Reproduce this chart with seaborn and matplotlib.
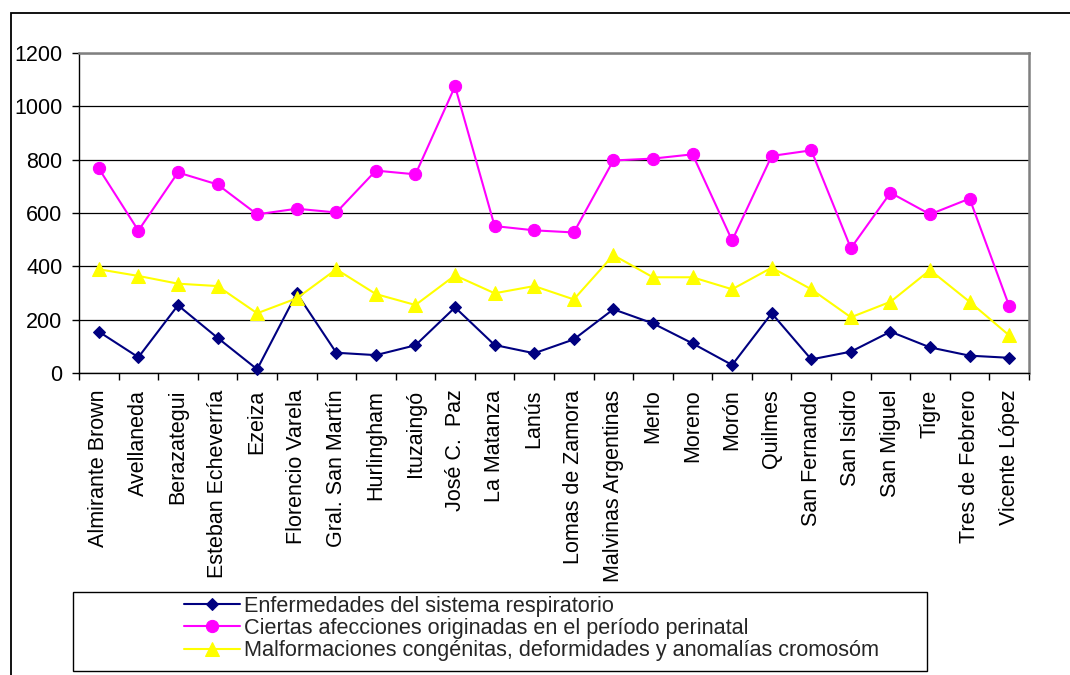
import numpy as np
import pandas as pd
import matplotlib
matplotlib.use("Agg")
import matplotlib.pyplot as plt
from matplotlib.patches import Rectangle
import seaborn as sns

categories = ["Almirante Brown", "Avellaneda", "Berazategui", "Esteban Echeverría",
              "Ezeiza", "Florencio Varela", "Gral. San Martín", "Hurlingham",
              "Ituzaingó", "José C.  Paz", "La Matanza", "Lanús", "Lomas de Zamora",
              "Malvinas Argentinas", "Merlo", "Moreno", "Morón", "Quilmes",
              "San Fernando", "San Isidro", "San Miguel", "Tigre", "Tres de Febrero",
              "Vicente López"]

respiratorio = [155, 59, 254, 132, 14, 299, 76, 67, 104, 246, 105, 74, 126,
                239, 186, 111, 30, 224, 51, 80, 155, 96, 65, 57]
perinatal = [767, 534, 752, 707, 595, 616, 602, 759, 745, 1075, 551, 535, 527,
             797, 804, 820, 497, 814, 835, 468, 676, 595, 654, 251]
malformaciones = [389, 364, 335, 326, 224, 280, 389, 296, 255, 366, 299, 326, 276,
                  442, 359, 359, 314, 395, 314, 209, 267, 386, 267, 141]

series_names = ["Enfermedades del sistema respiratorio",
                "Ciertas afecciones originadas en el período perinatal",
                "Malformaciones congénitas, deformidades y anomalías cromosóm"]
yticks = [0, 200, 400, 600, 800, 1000, 1200]

sns.set_theme(style="white")
plt.rcParams['font.family'] = ['Liberation Sans', 'DejaVu Sans']

W, H = 1070, 675
fig = plt.figure(figsize=(W / 100, H / 100), dpi=100)
fig.patch.set_facecolor("white")
ax = fig.add_axes([79 / W, 1 - 373 / H, (1029 - 79) / W, (373 - 53) / H])

x = np.arange(len(categories))
styles = [
    (respiratorio, "#000080", "D", 6.6),
    (perinatal, "#FF00FF", "o", 8.8),
    (malformaciones, "#FFFF00", "^", 9.8),
]
for (vals, col, mk, ms), name in zip(styles, series_names):
    sns.lineplot(x=x, y=vals, ax=ax, color=col, marker=mk, markersize=ms,
                 markeredgecolor=col, linewidth=1.5, label=name, legend=False,
                 clip_on=False, zorder=3)

ax.set_xlim(-0.5, len(categories) - 0.5)
ax.set_ylim(0, 1200)
ax.set_yticks(yticks)
ax.set_yticklabels([str(v) for v in yticks])
ax.set_xticks(x)
ax.set_xticklabels(categories, rotation=90, ha="center", va="top")
ax.set_xticks(np.arange(-0.5, len(categories), 1.0), minor=True)
ax.tick_params(axis="x", which="major", length=0, pad=12, labelsize=15.5, colors="black")
ax.tick_params(axis="x", which="minor", length=5, width=1, color="black", direction="out", bottom=True)
ax.tick_params(axis="y", which="major", length=5, width=1, color="black", direction="out",
               left=True, pad=7, labelsize=15.5, labelcolor="black")

ax.yaxis.grid(True, color="black", linewidth=0.9)
ax.xaxis.grid(False)
ax.set_axisbelow(True)
for s in ["left", "bottom"]:
    ax.spines[s].set_color("black")
    ax.spines[s].set_linewidth(1.0)
for s in ["top", "right"]:
    ax.spines[s].set_color("#808080")
    ax.spines[s].set_linewidth(1.8)
ax.set_xlabel("")
ax.set_ylabel("")

# outer chart border
fig.patches.append(Rectangle((11 / W, -0.1), 1.2, 1 - 13 / H + 0.1, transform=fig.transFigure,
                             fill=False, edgecolor="black", linewidth=1.3, clip_on=False))

# legend box
fig.patches.append(Rectangle((73 / W, 1 - 671 / H), (927 - 73) / W, (671 - 592) / H,
                             transform=fig.transFigure, fill=False, edgecolor="black",
                             linewidth=1.0))
handles, labels = ax.get_legend_handles_labels()
leg = fig.legend(handles, labels, loc="upper left", bbox_to_anchor=(184 / W, 1 - 596 / H),
                 frameon=False, borderpad=0, borderaxespad=0, handlelength=2.6,
                 handletextpad=0.15, labelspacing=0.05,
                 prop={"family": "Liberation Sans", "size": 15.6})

fig.savefig("out.png", dpi=100, facecolor="white")
